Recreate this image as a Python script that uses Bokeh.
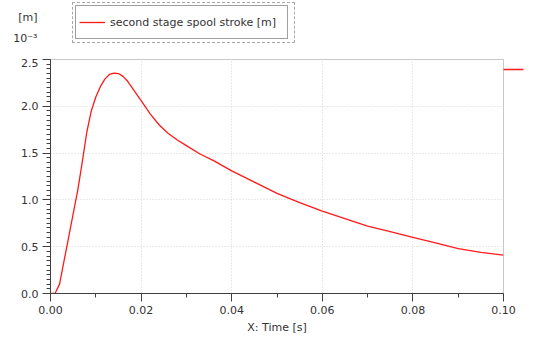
from bokeh.plotting import figure
from bokeh.layouts import column
from bokeh.models import (Legend, LegendItem, FixedTicker, LinearAxis,
                          Range1d, CustomJSTickFormatter)
from bokeh.embed import file_html
from bokeh.resources import INLINE

# data (time in s, stroke in 1e-3 m)
time_s = [0.000, 0.001, 0.002, 0.003, 0.004, 0.005, 0.006, 0.007, 0.008, 0.009,
          0.010, 0.011, 0.012, 0.013, 0.014, 0.015, 0.016, 0.017, 0.018, 0.019,
          0.020, 0.022, 0.024, 0.026, 0.028, 0.030, 0.033, 0.036, 0.040, 0.045,
          0.050, 0.055, 0.060, 0.065, 0.070, 0.075, 0.080, 0.085, 0.090, 0.095,
          0.100]
stroke = [0.00, 0.00, 0.10, 0.35, 0.60, 0.85, 1.10, 1.40, 1.72, 1.95,
          2.10, 2.21, 2.29, 2.34, 2.355, 2.35, 2.32, 2.27, 2.20, 2.13,
          2.06, 1.92, 1.80, 1.71, 1.64, 1.58, 1.49, 1.42, 1.31, 1.19,
          1.07, 0.97, 0.88, 0.80, 0.72, 0.66, 0.60, 0.54, 0.48, 0.44,
          0.41]
series_name = "second stage spool stroke [m]"
x_title = "X: Time [s]"
y_unit = "[m]"
y_scale = "10⁻³"
x_ticks = [0.0, 0.02, 0.04, 0.06, 0.08, 0.10]
y_ticks = [0.0, 0.5, 1.0, 1.5, 2.0, 2.5]

FONT = "DejaVu Sans"
TXT = "#333333"
RED = "#ff1a1a"
HEAD_H = 58

# ---------------- main chart ----------------
p = figure(width=534, height=342 - HEAD_H, output_backend="svg", toolbar_location=None,
           x_range=Range1d(0, 0.1), y_range=Range1d(0, 2.5),
           min_border_left=50, min_border_right=31, min_border_top=1,
           min_border_bottom=49)
p.outline_line_color = "#c8c8c8"

r = p.line(time_s, stroke, line_color=RED, line_width=1.3)

p.xaxis.ticker = FixedTicker(ticks=x_ticks, minor_ticks=[i / 100 for i in range(11)])
p.yaxis.ticker = FixedTicker(ticks=y_ticks, minor_ticks=[i / 20 for i in range(51)])
p.xaxis.formatter = CustomJSTickFormatter(code="return tick.toFixed(2);")
p.yaxis.formatter = CustomJSTickFormatter(code="return tick.toFixed(1);")
for ax in (p.xaxis, p.yaxis):
    ax.axis_line_color = "#404040"
    ax.major_tick_line_color = "#404040"
    ax.minor_tick_line_color = "#404040"
    ax.major_tick_out = 8
    ax.major_tick_in = 0
    ax.minor_tick_out = 4
    ax.minor_tick_in = 0
    ax.major_label_text_font = FONT
    ax.major_label_text_font_size = "11px"
    ax.major_label_text_color = TXT
p.xaxis.axis_label = x_title
p.xaxis.axis_label_text_font = FONT
p.xaxis.axis_label_text_font_size = "11px"
p.xaxis.axis_label_text_font_style = "normal"
p.xaxis.axis_label_text_color = TXT
p.xaxis.axis_label_standoff = 4
p.xaxis.major_label_standoff = 4
p.yaxis.major_label_standoff = 4

p.grid.grid_line_color = "#d4d4d4"
p.grid.grid_line_dash = "1 2"

# short red series marker to the right of the frame (drawn as a single tick)
MARK_Y = 2.393
right_mark = LinearAxis(ticker=FixedTicker(ticks=[MARK_Y], minor_ticks=[]),
                        major_label_overrides={MARK_Y: ""},
                        major_label_text_font_size="1px", major_label_standoff=0,
                        axis_line_color=None, minor_tick_line_color=None,
                        major_tick_line_color=RED, major_tick_line_width=1.3,
                        major_tick_line_dash="0 10 21 100",
                        major_tick_in=0, major_tick_out=30)
p.add_layout(right_mark, "right")

# ---------------- header (unit + legend) ----------------
# its frame is aligned with the main frame (x 50..503) by the column layout
h = figure(width=534, height=HEAD_H, output_backend="svg", toolbar_location=None,
           x_range=Range1d(0, 1), y_range=Range1d(0, HEAD_H), min_border=0,
           x_axis_location=None, y_axis_location="left")
h.grid.visible = False
h.outline_line_color = None
# unit text shown as the header's left-axis labels
h.yaxis.ticker = FixedTicker(ticks=[HEAD_H - 17, HEAD_H - 38], minor_ticks=[])
h.yaxis.major_label_overrides = {float(HEAD_H - 17): y_unit, float(HEAD_H - 38): y_scale}
h.yaxis.axis_line_color = None
h.yaxis.major_tick_line_color = None
h.yaxis.major_tick_out = 0
h.yaxis.major_tick_in = 0
h.yaxis.major_label_standoff = 13
h.yaxis.major_label_text_font = FONT
h.yaxis.major_label_text_font_size = "11px"
h.yaxis.major_label_text_color = TXT

# renderer kept outside the visible range; it only feeds the legend sample
hr = h.line([t + 10 for t in time_s], stroke, line_color=RED, line_width=1.3)

# outer dotted frame (its content is covered by the inner legend)
legend_outer = Legend(items=[LegendItem(label=series_name, renderers=[hr])],
                      location=(22, HEAD_H - 43), orientation="vertical",
                      border_line_color="#555555", border_line_width=1,
                      border_line_dash="1 1", background_fill_color="white",
                      background_fill_alpha=1, padding=3, margin=0, spacing=0,
                      glyph_width=26, glyph_height=33, label_standoff=5,
                      label_width=184, label_text_font=FONT,
                      label_text_font_size="11px", label_text_alpha=0)
h.add_layout(legend_outer, "center")

legend = Legend(items=[LegendItem(label=series_name, renderers=[hr])],
                location=(25, HEAD_H - 39), orientation="vertical",
                border_line_color="#404040", border_line_width=1,
                background_fill_color="white",
                background_fill_alpha=1, padding=3, margin=0, spacing=0,
                glyph_width=26, glyph_height=26, label_standoff=5, label_width=174,
                label_text_font=FONT, label_text_font_size="11px",
                label_text_color=TXT)
h.add_layout(legend, "center")

layout = column(h, p, spacing=0)
open("out.html", "w").write(file_html(layout, INLINE))
